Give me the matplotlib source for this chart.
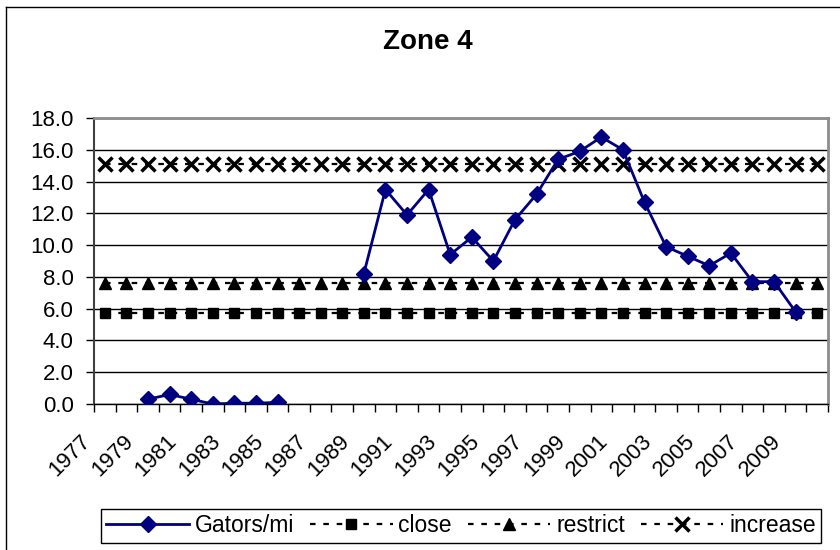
import numpy as np
import matplotlib
matplotlib.use("Agg")
import matplotlib.pyplot as plt
from matplotlib.transforms import ScaledTranslation
from matplotlib.lines import Line2D

plt.rcParams['font.family'] = ['Liberation Sans', 'DejaVu Sans']

years = list(range(1977, 2011))
nan = np.nan
gators = [nan, nan, 0.3, 0.6, 0.3, 0.0, 0.05, 0.05, 0.1, nan, nan, nan,
          8.2, 13.5, 11.9, 13.5, 9.4, 10.5, 9.0, 11.6, 13.2, 15.4, 15.9,
          16.8, 16.0, 12.7, 9.9, 9.3, 8.7, 9.5, 7.7, 7.7, 5.8, nan]
close = [5.7] * len(years)
restrict = [7.6] * len(years)
increase = [15.1] * len(years)
title = "Zone 4"

W, H = 840, 550
fig = plt.figure(figsize=(W / 100, H / 100), dpi=100)
ax = fig.add_axes([94 / W, 1 - 404 / H, (828 - 94) / W, (404 - 118) / H])

x = np.arange(len(years))
dash = (0, (2.5, 3.5))
ax.plot(x, gators, color='#000080', lw=2, marker='D', ms=8, mec='#000080',
        mfc='#000080', zorder=5, label='Gators/mi')
ax.plot(x, close, color='black', lw=1.6, ls=dash, marker='s', ms=7.5,
        mfc='black', mec='black', zorder=4, label='close')
ax.plot(x, restrict, color='black', lw=1.6, ls=dash, marker='^', ms=8.5,
        mfc='black', mec='black', zorder=4, label='restrict')
ax.plot(x, increase, color='black', lw=1.6, ls=dash, marker='x', ms=9.5,
        mew=2.5, mec='black', zorder=4, label='increase')

ax.set_xlim(-0.5, len(years) - 0.5)
ax.set_ylim(0, 18)
ax.set_yticks(np.arange(0, 18.1, 2))
ax.set_yticklabels([f"{v:.1f}" for v in np.arange(0, 18.1, 2)], fontsize=16)
ax.yaxis.grid(True, color='black', lw=1)
ax.set_axisbelow(True)

ax.set_xticks(x[::2])
ax.set_xticklabels([str(y) for y in years[::2]], rotation=45, ha='right',
                   va='top', fontsize=16)
ax.set_xticks(np.arange(-0.5, len(years), 1), minor=True)
ax.tick_params(axis='x', which='major', length=0, pad=19)
ax.tick_params(axis='x', which='minor', length=6, width=1, color='black')
ax.tick_params(axis='y', length=6, width=1, color='black', pad=8.5)

for lab in ax.get_xticklabels():
    lab.set_transform(lab.get_transform() + ScaledTranslation(-0.10, 0, fig.dpi_scale_trans))

ax.spines['top'].set_color('#8c8c8c')
ax.spines['right'].set_color('#8c8c8c')
ax.spines['top'].set_linewidth(2)
ax.spines['right'].set_linewidth(2)
ax.spines['left'].set_color('#404040')
ax.spines['left'].set_linewidth(1.5)
ax.spines['bottom'].set_color('black')
ax.spines['bottom'].set_linewidth(1)

fig.text(428 / W, 1 - 42 / H, title, ha='center', va='center',
         fontsize=20, fontweight='bold')

leg = fig.legend(loc='center', bbox_to_anchor=((104 + 818) / 2 / W, 1 - 526 / H),
                 ncol=4, frameon=True, fancybox=False, edgecolor='black',
                 framealpha=1, fontsize=16.5, handlelength=3.6, handletextpad=0.25,
                 columnspacing=0.7, borderpad=0.25, borderaxespad=0)
leg.get_frame().set_linewidth(1)

# outer chart border
fig.add_artist(Line2D([6 / W, 6 / W], [-0.1, 1 - 7 / H], color='black', lw=1,
                      transform=fig.transFigure))
fig.add_artist(Line2D([6 / W, 1.1], [1 - 7 / H, 1 - 7 / H], color='black', lw=1,
                      transform=fig.transFigure))

fig.savefig("out.png", dpi=100)
